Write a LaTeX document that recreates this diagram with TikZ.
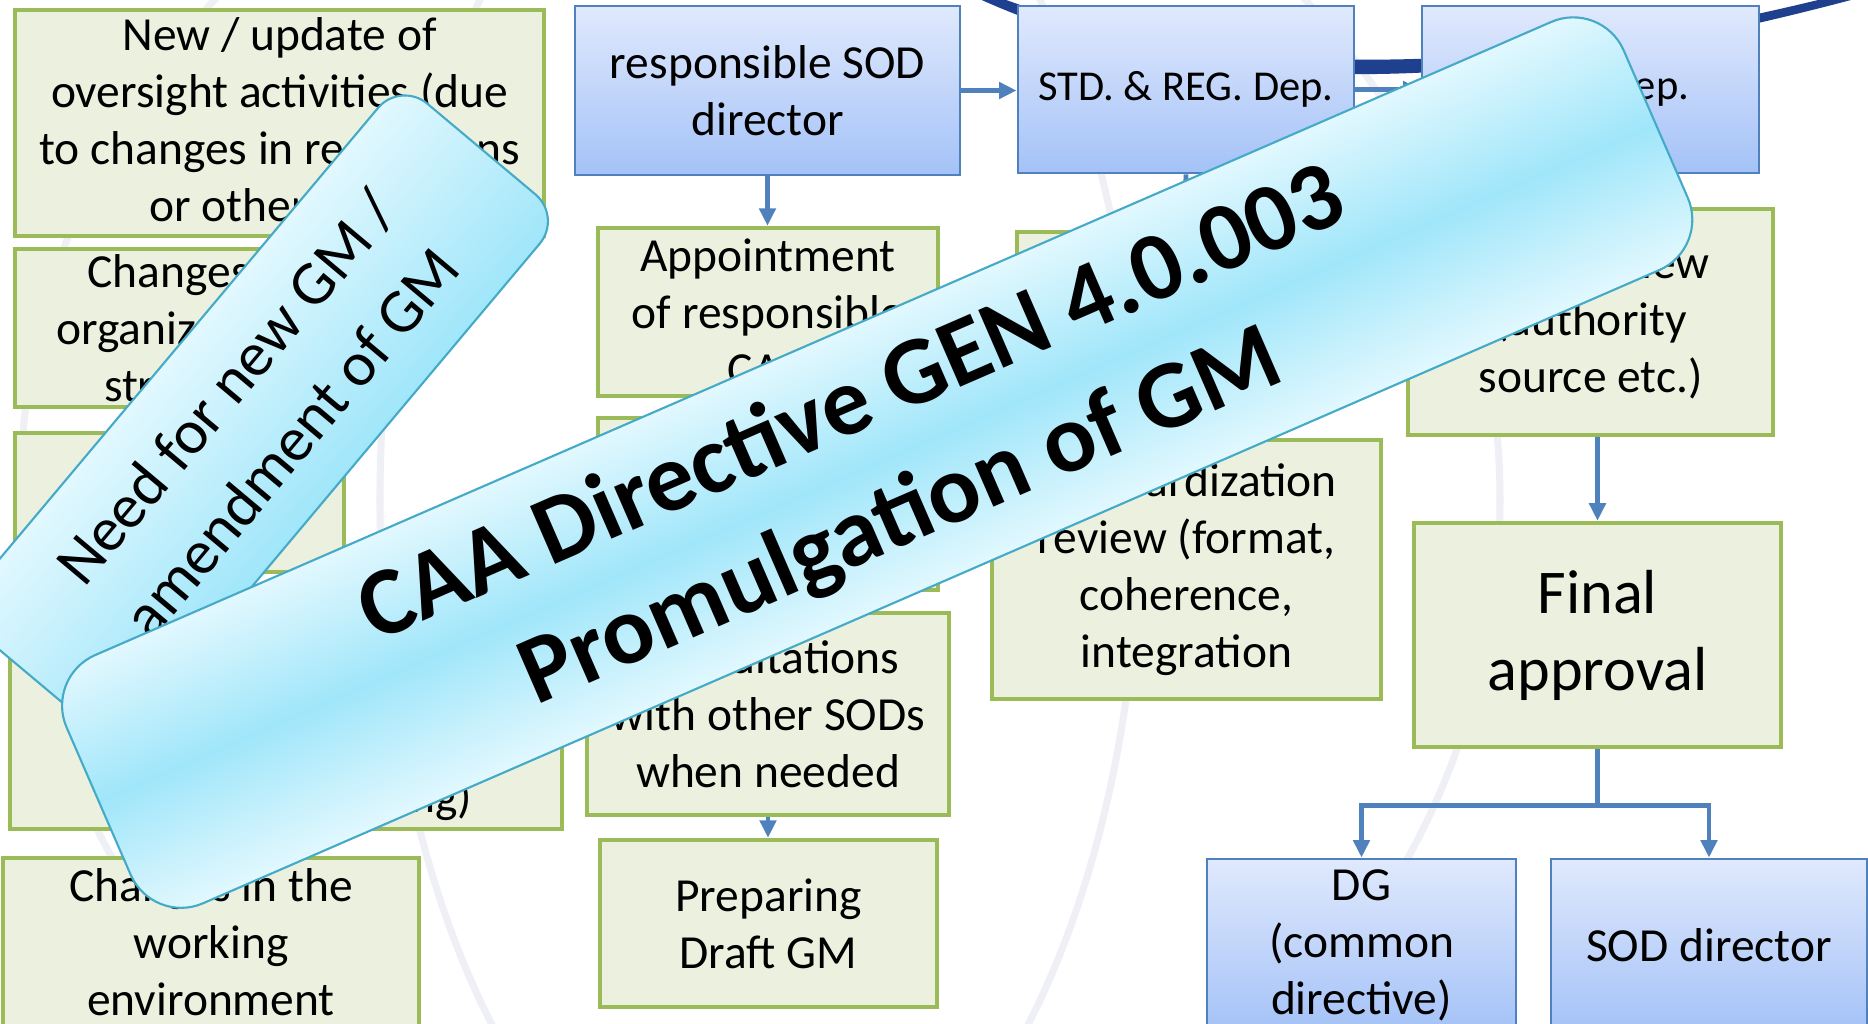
\documentclass[tikz,border=0pt]{standalone}
\usepackage{fontspec}
\setmainfont{Carlito}
\usetikzlibrary{arrows.meta}

\definecolor{gmfill}{HTML}{EBF1DE}
\definecolor{gmgreen}{HTML}{9BBB59}
\definecolor{gmblue}{HTML}{4F81BD}
\definecolor{deptop}{HTML}{E0E9FD}
\definecolor{depbottom}{HTML}{A4C2F7}
\definecolor{bannerpale}{HTML}{E2F8FE}
\definecolor{bannerdeep}{HTML}{A0E6FA}
\definecolor{bannerline}{HTML}{45AAC8}
\definecolor{swooshblue}{HTML}{1F3F8F}
\definecolor{globegray}{HTML}{EFEFF6}

\newcommand{\boxfont}{\fontsize{13.5}{16.2}\selectfont}
\newcommand{\depfont}{\fontsize{12.1}{14.6}\selectfont}
\newcommand{\finalfont}{\fontsize{17.7}{21.9}\selectfont}
\newcommand{\needfont}{\fontsize{17.8}{24.2}\selectfont}
\newcommand{\cafont}{\fontsize{27.6}{34.9}\selectfont\bfseries}

\tikzset{
  greenbox/.style={draw=gmgreen, line width=1.2pt, fill=gmfill, align=center, inner sep=0pt, font=\boxfont},
  bluebox/.style={draw=gmblue, line width=0.75pt, top color=deptop, bottom color=depbottom, align=center, inner sep=0pt, font=\boxfont},
  flowarrow/.style={gmblue, line width=1.4pt, -{Triangle[length=5pt,width=4.6pt]}},
  flowline/.style={gmblue, line width=1.4pt},
  banner/.style={draw=bannerline, line width=0.6pt, align=center, inner sep=0pt},
  globe/.style={globegray, line width=2pt},
}

\begin{document}
\begin{tikzpicture}[x=0.01cm, y=-0.01cm]
    \useasboundingbox (0,0) rectangle (1868,1024);

    % faint globe behind everything
    \draw[globe] (760,500) circle [radius=740];
    \draw[globe] (760,500) ellipse [x radius=380, y radius=740];

    % dark swoosh across the top
    \fill[swooshblue] (975,-3) .. controls (1200,100) and (1480,100) .. (1866,-4)
        -- (1858,-10) .. controls (1490,85) and (1210,80) .. (985,-8) -- cycle;

    % triggers
    \node[greenbox, minimum width=5.29cm, minimum height=2.26cm] (trig1) at (279.5,123)
        {New / update of\\oversight activities (due\\to changes in regulations\\or otherwise)};
    \node[greenbox, minimum width=3.54cm, minimum height=1.58cm] (trig2) at (192,328)
        {Changes in\\organizational\\structure};
    \node[greenbox, minimum width=3.29cm, minimum height=1.39cm] (trig3) at (179.5,502.5) {};
    \node[greenbox, minimum width=5.52cm, minimum height=2.29cm] (trig4) at (286,714.5)
        {Findings from\\oversight\\(audits, inspections\\or safety reporting)};
    \node[greenbox, minimum width=4.16cm, minimum height=1.68cm] (trig5) at (211,942)
        {Changes in the\\working\\environment};

    % SOD column
    \node[bluebox, minimum width=3.85cm, minimum height=1.69cm] (sod) at (767.5,90.5)
        {responsible SOD\\director};
    \node[greenbox, minimum width=3.40cm, minimum height=1.68cm] (appoint) at (768,312)
        {Appointment\\of responsible\\CAA};
    \node[greenbox, minimum width=3.40cm, minimum height=1.72cm] (drafter) at (768,504) {};
    \node[greenbox, minimum width=3.62cm, minimum height=2.02cm] (consult) at (768,714)
        {Consultations\\with other SODs\\when needed};
    \node[greenbox, minimum width=3.37cm, minimum height=1.67cm] (draft) at (768.5,923.5)
        {Preparing\\Draft GM};

    % standards column
    \node[bluebox, font=\depfont, minimum width=3.36cm, minimum height=1.67cm] (stdreg) at (1186,89.5)
        {STD. \& REG. Dep.};
    \node[greenbox, minimum width=3.37cm, minimum height=1.58cm] (stdcheck) at (1185.5,311) {};
    \node[greenbox, minimum width=3.89cm, minimum height=2.59cm] (stdreview) at (1186.5,569.5)
        {Standardization\\review (format,\\coherence,\\integration};

    % legal column
    \node[bluebox, font=\depfont, minimum width=3.37cm, minimum height=1.67cm] (legal) at (1590.5,89.5)
        {LEGAL Dep.};
    \node[greenbox, minimum width=3.65cm, minimum height=2.26cm] (legalreview) at (1590.5,322)
        {Legal review\\(authority\\source etc.)};
    \node[greenbox, font=\finalfont, minimum width=3.67cm, minimum height=2.24cm] (final) at (1597.5,635)
        {Final\\approval};
    \node[bluebox, minimum width=3.09cm, minimum height=1.72cm] (dg) at (1361.5,945)
        {DG\\(common\\directive)};
    \node[bluebox, minimum width=3.16cm, minimum height=1.72cm] (soddir) at (1709,945)
        {SOD director};

    % connectors
    \draw[flowarrow] (sod.south) -- (sod.south |- appoint.north);
    \draw[flowarrow] (sod.east) -- (sod.east -| stdreg.west);
    \draw[flowarrow] (stdreg.east) -- (legal.west);
    \draw[flowarrow] (stdreg.south) -- (stdcheck.north);
    \draw[flowarrow] (consult.south) -- (consult.south |- draft.north);
    \draw[flowarrow] (final.north |- legalreview.south) -- (final.north);
    \draw[flowline] (final.south) -- ++(0,56) coordinate (split);
    \draw[flowarrow] (split) -| (dg.north);
    \draw[flowarrow] (split) -| (soddir.north);

    % banners laid over the chart
    \begin{scope}[transform canvas={rotate around={50:(258.5,414.6)}}]
      \node[banner, rounded corners=0.35cm, minimum width=6.93cm, minimum height=2.11cm,
            top color=bannerpale, bottom color=bannerdeep, font=\needfont] (need) at (258.5,414.6)
          {Need for new GM /\\amendment of GM};
    \end{scope}
    \begin{scope}[transform canvas={rotate around={23.5:(877.2,462.6)}}]
      \node[banner, rounded corners=0.55cm, minimum width=16.97cm, minimum height=2.705cm,
            top color=bannerpale, bottom color=bannerpale, middle color=bannerdeep, font=\cafont] (directive) at (877.2,462.6)
          {CAA Directive GEN 4.0.003\\Promulgation of GM};
    \end{scope}
\end{tikzpicture}
\end{document}
